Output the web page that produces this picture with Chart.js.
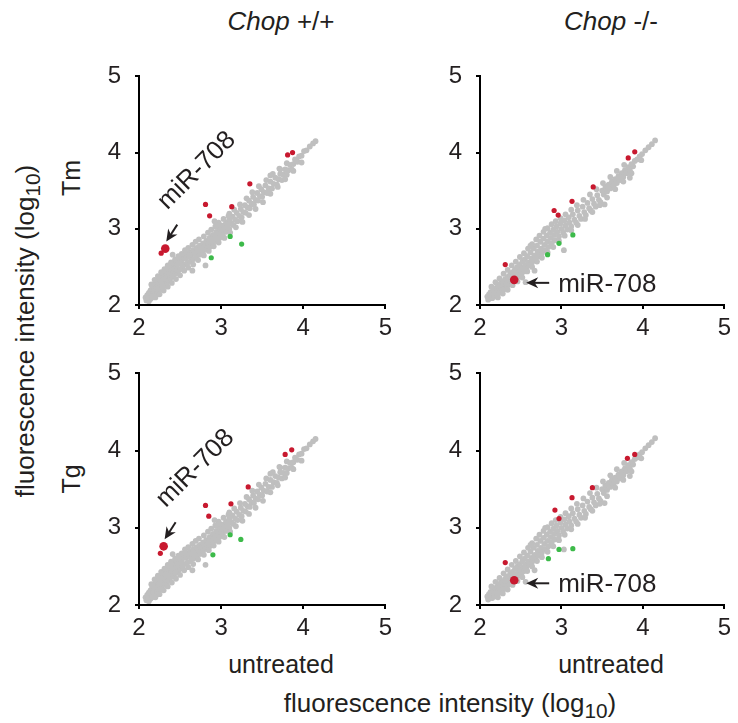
<!DOCTYPE html>
<html>
<head>
<meta charset="utf-8">
<script src="https://cdn.jsdelivr.net/npm/chart.js@4.4.1/dist/chart.umd.min.js"></script>
<style>
html, body { margin: 0; padding: 0; background: #fff; overflow: hidden; }
body { width: 738px; height: 723px; position: relative; font-family: 'Liberation Sans', Arial, Helvetica, sans-serif; color: #231f20; }
canvas { position: absolute; }
.lbl { position: absolute; font-size: 25px; line-height: 25px; white-space: nowrap; transform: translate(-50%, -50%); }
.rot { transform: translate(-50%, -50%) rotate(-90deg); }
sub { font-size: 0.8em; vertical-align: -0.3em; line-height: 0; }
</style>
</head>
<body>
<div class="lbl" style="left:281px; top:21px; font-size:26px;"><i>Chop</i> +/+</div>
<div class="lbl" style="left:611px; top:21px; font-size:26px;"><i>Chop</i> -/-</div>
<div class="lbl rot" style="left:71px; top:178px;">Tm</div>
<div class="lbl rot" style="left:71px; top:479px;">Tg</div>
<div class="lbl rot" style="left:25px; top:331px; font-size:26px;">fluorescence intensity (log<sub>10</sub>)</div>
<div class="lbl" style="left:281px; top:664px;">untreated</div>
<div class="lbl" style="left:611px; top:664px;">untreated</div>
<div class="lbl" style="left:450px; top:703px; font-size:26px;">fluorescence intensity (log<sub>10</sub>)</div>

<canvas id="tmWt"></canvas>
<canvas id="tmKo"></canvas>
<canvas id="tgWt"></canvas>
<canvas id="tgKo"></canvas>

<script>
// axis ticks (log10 fluorescence)
const tickValues = [2, 3, 4, 5];

// grey: all other miRNAs, Chop +/+ (treated vs untreated)
const wtGrey = [
  [2.08,2.10],[2.09,2.06],[2.10,2.13],[2.11,2.09],[2.12,2.16],[2.12,2.05],[2.13,2.12],[2.14,2.19],[2.14,2.08],[2.15,2.15],
  [2.16,2.22],[2.16,2.10],[2.17,2.17],[2.18,2.25],[2.18,2.12],[2.19,2.20],[2.20,2.28],[2.20,2.15],[2.21,2.23],[2.22,2.31],
  [2.22,2.17],[2.23,2.26],[2.24,2.33],[2.24,2.19],[2.25,2.28],[2.26,2.36],[2.26,2.21],[2.27,2.30],[2.28,2.38],[2.28,2.24],
  [2.29,2.33],[2.30,2.41],[2.30,2.26],[2.31,2.35],[2.32,2.43],[2.32,2.28],[2.33,2.37],[2.34,2.45],[2.34,2.30],[2.35,2.40],
  [2.36,2.47],[2.36,2.32],[2.37,2.42],[2.38,2.50],[2.38,2.35],[2.39,2.44],[2.40,2.52],[2.40,2.37],[2.41,2.46],[2.42,2.54],
  [2.42,2.39],[2.43,2.48],[2.44,2.41],[2.45,2.51],[2.46,2.57],[2.46,2.43],[2.47,2.53],[2.48,2.45],[2.49,2.55],[2.50,2.60],
  [2.50,2.47],[2.52,2.57],[2.53,2.50],[2.54,2.62],[2.55,2.53],
  [2.57,2.61],[2.58,2.67],[2.59,2.55],[2.61,2.63],[2.62,2.69],[2.63,2.57],[2.64,2.66],[2.66,2.72],[2.66,2.60],[2.68,2.68],
  [2.70,2.75],[2.70,2.63],[2.72,2.71],[2.74,2.78],[2.74,2.66],[2.76,2.74],[2.78,2.81],[2.78,2.70],[2.80,2.77],[2.82,2.84],
  [2.82,2.73],[2.84,2.80],[2.86,2.88],[2.86,2.76],[2.88,2.83],[2.90,2.92],[2.90,2.80],[2.92,2.87],[2.94,2.96],[2.94,2.84],
  [2.96,2.91],[2.98,3.00],[2.98,2.88],[3.00,2.95],[3.02,3.04],[3.02,2.92],[3.04,2.99],[3.06,3.08],[3.06,2.96],[3.08,3.03],
  [3.10,3.12],[3.10,3.00],[3.12,3.07],[3.14,3.16],[3.15,3.05],[3.17,3.12],[3.19,3.21],[3.20,3.10],[3.22,3.17],[3.24,3.26],
  [3.25,3.15],[3.27,3.22],[3.29,3.31],[3.30,3.21],[3.32,3.28],[3.34,3.37],[3.35,3.27],[3.37,3.33],[3.39,3.42],[3.40,3.32],
  [3.42,3.38],[3.44,3.47],[3.45,3.37],[3.47,3.43],[3.49,3.52],[3.50,3.42],[3.52,3.48],
  [3.54,3.57],[3.56,3.47],[3.58,3.53],[3.60,3.62],[3.62,3.53],[3.64,3.59],[3.66,3.67],[3.68,3.58],[3.70,3.65],[3.72,3.72],
  [3.74,3.64],[3.76,3.71],[3.78,3.78],[3.80,3.71],[3.82,3.77],[3.84,3.84],[3.86,3.78],[3.88,3.85],[3.90,3.91],[3.93,3.88],
  [3.95,3.95],[3.98,3.96],[4.01,4.02],[4.04,4.03],[4.08,4.08],[4.12,4.12],[4.15,4.15],
  // upper edge of the band
  [2.15,2.27],[2.19,2.33],[2.23,2.38],[2.27,2.43],[2.31,2.47],[2.35,2.52],[2.39,2.56],[2.44,2.60],[2.48,2.64],[2.52,2.67],
  [2.56,2.72],[2.60,2.75],[2.65,2.79],[2.69,2.83],[2.73,2.86],[2.79,2.90],[2.84,2.95],[2.88,2.99],[2.93,3.03],[2.97,3.08],
  [3.03,3.13],[3.09,3.17],[3.16,3.25],[3.23,3.32],[3.31,3.40],[3.38,3.48],[3.46,3.56],[3.55,3.64],[3.63,3.72],[3.71,3.79],
  [3.80,3.86],
  // lower edge of the band
  [2.20,2.10],[2.25,2.14],[2.30,2.19],[2.35,2.24],[2.40,2.29],[2.45,2.34],[2.50,2.39],[2.55,2.45],[2.60,2.49],[2.66,2.53],
  [2.72,2.59],[2.79,2.65],[2.85,2.71],[2.91,2.77],[2.97,2.82],[3.04,2.88],[3.11,2.95],[3.18,3.02],[3.26,3.09],[3.34,3.18],
  [3.42,3.26],[3.51,3.35],[3.60,3.46],[3.69,3.55],[3.78,3.65],[3.88,3.76],
  // scattered
  [2.41,2.66],[2.65,2.45],[2.81,2.52],[2.92,3.10],[2.98,3.05],[3.10,3.20],[3.72,3.78],[3.98,3.87],[3.60,3.70]
];

// grey: all other miRNAs, Chop -/-
const koGrey = [
  [2.09,2.11],[2.10,2.07],[2.11,2.14],[2.12,2.10],[2.13,2.17],[2.14,2.12],[2.15,2.09],[2.16,2.19],[2.17,2.14],[2.18,2.11],
  [2.19,2.22],[2.20,2.17],[2.21,2.13],[2.22,2.25],[2.23,2.20],[2.24,2.16],[2.25,2.28],[2.26,2.22],[2.27,2.19],[2.28,2.31],
  [2.29,2.25],[2.30,2.21],[2.31,2.34],[2.32,2.28],[2.33,2.24],[2.34,2.37],[2.35,2.31],[2.36,2.27],[2.37,2.40],[2.38,2.34],
  [2.39,2.30],[2.40,2.43],[2.41,2.37],[2.42,2.33],[2.43,2.47],[2.44,2.40],[2.45,2.36],[2.46,2.50],[2.47,2.43],[2.48,2.38],
  [2.49,2.53],[2.50,2.46],[2.51,2.41],[2.52,2.57],[2.53,2.49],[2.54,2.44],[2.55,2.60],[2.56,2.52],[2.57,2.47],
  [2.58,2.64],[2.59,2.56],[2.60,2.52],[2.62,2.69],[2.63,2.61],[2.64,2.56],[2.66,2.74],[2.67,2.65],[2.68,2.60],[2.70,2.78],
  [2.71,2.70],[2.72,2.64],[2.74,2.83],[2.75,2.74],[2.76,2.68],[2.78,2.87],[2.79,2.79],[2.80,2.72],[2.82,2.91],[2.83,2.83],
  [2.84,2.76],[2.86,2.95],[2.87,2.88],[2.88,2.81],[2.90,2.99],[2.91,2.92],[2.92,2.85],[2.94,3.03],[2.95,2.96],[2.97,2.90],
  [2.99,3.07],[3.00,3.00],[3.02,2.95],[3.04,3.11],[3.05,3.04],[3.07,2.99],[3.09,3.15],[3.10,3.08],[3.12,3.03],[3.14,3.19],
  [3.16,3.12],[3.18,3.08],[3.20,3.24],[3.22,3.17],[3.24,3.13],[3.26,3.29],[3.28,3.22],[3.30,3.18],[3.32,3.34],[3.34,3.27],
  [3.36,3.24],[3.38,3.39],[3.40,3.33],[3.42,3.29],[3.44,3.44],[3.46,3.38],[3.48,3.35],[3.50,3.50],[3.52,3.45],
  [3.54,3.55],[3.56,3.49],[3.58,3.58],[3.60,3.53],[3.62,3.62],[3.64,3.57],[3.66,3.65],[3.68,3.60],[3.70,3.69],[3.72,3.64],
  [3.74,3.73],[3.76,3.68],[3.78,3.77],[3.80,3.73],[3.82,3.81],[3.84,3.77],[3.86,3.85],[3.88,3.82],[3.90,3.89],[3.93,3.91],
  [3.96,3.95],[3.99,3.98],[4.03,4.03],[4.07,4.07],[4.11,4.11],[4.15,4.16],
  // upper edge of the band
  [2.14,2.24],[2.19,2.30],[2.24,2.35],[2.29,2.41],[2.34,2.46],[2.39,2.52],[2.44,2.57],[2.49,2.63],[2.54,2.68],[2.59,2.74],
  [2.64,2.80],[2.69,2.86],[2.73,2.91],[2.78,2.96],[2.83,3.01],[2.88,3.06],[2.93,3.10],[2.99,3.14],[3.05,3.19],[3.12,3.25],
  [3.19,3.31],[3.27,3.38],[3.35,3.45],[3.43,3.52],[3.51,3.60],[3.60,3.68],[3.68,3.76],[3.77,3.84],
  // lower edge of the band
  [2.22,2.10],[2.28,2.15],[2.34,2.20],[2.40,2.26],[2.46,2.31],[2.52,2.36],[2.58,2.44],[2.64,2.50],[2.70,2.57],[2.76,2.62],
  [2.83,2.69],[2.90,2.76],[2.97,2.84],[3.04,2.91],[3.12,2.98],[3.20,3.05],[3.29,3.13],[3.38,3.22],[3.47,3.31],[3.56,3.41],
  [3.66,3.52],[3.76,3.62],[3.86,3.73],
  // scattered
  [2.56,2.30],[2.67,2.45],[3.03,2.72],[3.53,3.32],[3.84,3.67],[3.98,3.90],[2.62,2.78],[2.80,3.00]
];

// red: induced miRNAs, green: repressed miRNAs, miR-708 highlighted
const tmWtUp = [[2.27,2.68],[2.81,3.32],[2.86,3.17],[3.13,3.29],[3.35,3.59],[3.81,3.97],[3.87,4.00]];
const tmWtDown = [[2.88,2.62],[3.11,2.90],[3.25,2.80]];
const tmWtMir = [[2.32,2.74]];

const tmKoUp = [[2.31,2.53],[2.91,3.24],[2.96,3.18],[3.13,3.36],[3.39,3.55],[3.82,3.93],[3.90,4.01]];
const tmKoDown = [[2.83,2.66],[2.97,2.81],[3.14,2.92]];
const tmKoMir = [[2.42,2.33]];

const tgWtUp = [[2.26,2.67],[2.81,3.29],[2.85,3.15],[3.12,3.31],[3.33,3.53],[3.78,3.95],[3.86,4.01]];
const tgWtDown = [[2.90,2.65],[3.11,2.91],[3.24,2.85]];
const tgWtMir = [[2.30,2.76]];

const tgKoUp = [[2.31,2.55],[2.92,3.23],[2.97,3.12],[3.13,3.39],[3.38,3.52],[3.81,3.90],[3.90,3.95]];
const tgKoDown = [[2.84,2.60],[2.97,2.72],[3.14,2.73]];
const tgKoMir = [[2.42,2.32]];

const FONT = "'Liberation Sans', Arial, Helvetica, sans-serif";
const INK = '#231f20';
const RED = '#c8192f';
const GREEN = '#3dba4a';
const GREY = '#bfbfbf';

// fixed space around each plot area
const PADL = 5, YW = 55, PADT = 20, PADR = 10, XH = 45, PADB = 5;

const toPts = arr => arr.map(p => ({ x: p[0], y: p[1] }));

function axis(dir) {
  return {
    type: 'linear',
    min: 2,
    max: 5,
    afterBuildTicks: s => { s.ticks = tickValues.map(v => ({ value: v })); },
    afterFit: s => { if (dir === 'x') s.height = XH; else s.width = YW; },
    border: { display: true, color: '#000', width: 2 },
    grid: { display: true, drawOnChartArea: false, drawTicks: true, tickLength: 4, color: '#000', lineWidth: 2 },
    ticks: { color: INK, padding: dir === 'x' ? 5 : 14, font: { family: FONT, size: 24 } }
  };
}

function drawHead(ctx, tail, tip) {
  const a = Math.atan2(tip[1] - tail[1], tip[0] - tail[0]);
  const L = 12, W = 5.5;
  ctx.save();
  ctx.translate(tip[0], tip[1]);
  ctx.rotate(a);
  ctx.beginPath();
  ctx.moveTo(0, 0);
  ctx.lineTo(-L, -W);
  ctx.lineTo(-L * 0.7, 0);
  ctx.lineTo(-L, W);
  ctx.closePath();
  ctx.fill();
  ctx.restore();
}

// arrow + label pointing at miR-708
const mirArrow = {
  id: 'mirArrow',
  afterDatasetsDraw(chart, args, opts) {
    const pt = chart.getDatasetMeta(0).data[0];
    const ctx = chart.ctx;
    ctx.save();
    ctx.fillStyle = INK;
    ctx.strokeStyle = INK;
    ctx.lineWidth = 2;
    ctx.font = '26px ' + FONT;
    let tail, tip;
    if (opts.style === 'diag') {
      tail = [pt.x + 12, pt.y - 24];
      tip = [pt.x + 1, pt.y - 7];
    } else {
      tail = [pt.x + 35, pt.y + 3];
      tip = [pt.x + 12, pt.y + 3];
    }
    ctx.beginPath();
    ctx.moveTo(tail[0], tail[1]);
    ctx.lineTo(tip[0] + (tail[0] - tip[0]) * 0.3, tip[1] + (tail[1] - tip[1]) * 0.3);
    ctx.stroke();
    drawHead(ctx, tail, tip);
    if (opts.style === 'diag') {
      ctx.translate(pt.x + 2, pt.y - 38);
      ctx.rotate(-Math.PI / 4);
      ctx.textAlign = 'left';
      ctx.textBaseline = 'alphabetic';
      ctx.fillText('miR-708', 0, 0);
    } else {
      ctx.textAlign = 'left';
      ctx.textBaseline = 'alphabetic';
      ctx.fillText('miR-708', pt.x + 44, pt.y + 12);
    }
    ctx.restore();
  }
};

function makePanel(id, area, grey, up, down, mir, style) {
  const cv = document.getElementById(id);
  cv.width = PADL + YW + (area.r - area.l) + PADR;
  cv.height = PADT + (area.b - area.t) + XH + PADB;
  cv.style.left = (area.l - PADL - YW) + 'px';
  cv.style.top = (area.t - PADT) + 'px';
  const ds = (data, color, r) => ({
    data: toPts(data),
    pointBackgroundColor: color,
    pointBorderColor: color,
    pointBorderWidth: 0,
    pointRadius: r,
    showLine: false
  });
  new Chart(cv, {
    type: 'scatter',
    data: {
      datasets: [
        ds(mir, RED, 4.3),
        ds(up, RED, 2.6),
        ds(down, GREEN, 2.6),
        ds(grey, GREY, 2.9)
      ]
    },
    options: {
      responsive: false,
      animation: false,
      events: [],
      layout: { padding: { left: PADL, top: PADT, right: PADR, bottom: PADB } },
      plugins: { legend: { display: false }, tooltip: { enabled: false }, mirArrow: { style: style } },
      scales: { x: axis('x'), y: axis('y') }
    },
    plugins: [mirArrow]
  });
}

makePanel('tmWt', { l: 139, t: 68, r: 387, b: 305 }, wtGrey, tmWtUp, tmWtDown, tmWtMir, 'diag');
makePanel('tmKo', { l: 480, t: 68, r: 726, b: 305 }, koGrey, tmKoUp, tmKoDown, tmKoMir, 'side');
makePanel('tgWt', { l: 139, t: 365, r: 387, b: 605 }, wtGrey, tgWtUp, tgWtDown, tgWtMir, 'diag');
makePanel('tgKo', { l: 480, t: 365, r: 726, b: 605 }, koGrey, tgKoUp, tgKoDown, tgKoMir, 'side');
</script>
</body>
</html>
